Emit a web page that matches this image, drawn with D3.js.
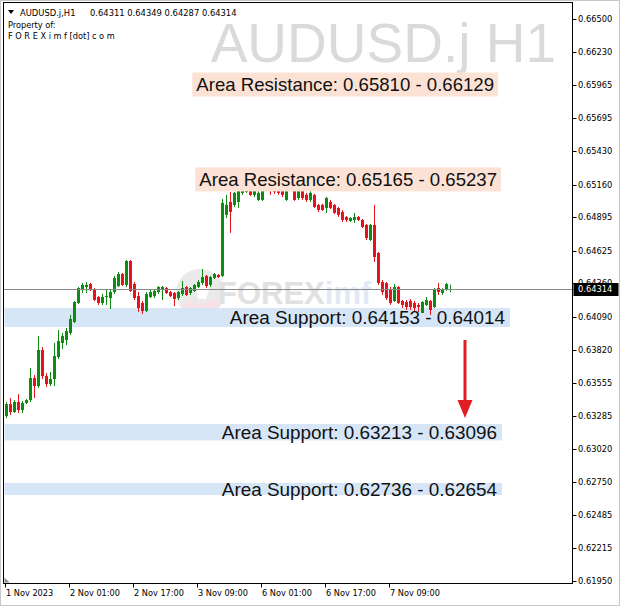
<!DOCTYPE html>
<html><head><meta charset="utf-8">
<script src="https://cdn.jsdelivr.net/npm/d3@7"></script>
<style>body{margin:0;background:#fff}svg{display:block}</style>
</head><body><svg id="c" width="620" height="606"></svg>
<script>
// ---------- data ----------
const symbolName = "AUDUSD.j,H1";
const watermarkText = "AUDUSD.j H1";
const ownerLines = ["Property of:", "F O R E X i m f [dot] c o m"];

const openP = [0.63285,0.63382,0.63318,0.63399,0.63334,0.63391,0.63415,0.63593,0.63528,0.63820,
0.63609,0.63545,0.63585,0.63763,0.63877,0.63901,0.63958,0.64047,0.64201,0.64314,
0.64330,0.64355,0.64314,0.64249,0.64201,0.64249,0.64241,0.64290,0.64338,0.64436,
0.64347,0.64541,0.64355,0.64257,0.64201,0.64136,0.64249,0.64257,0.64290,0.64314,
0.64322,0.64290,0.64282,0.64241,0.64274,0.64330,0.64282,0.64298,0.64330,0.64363,
0.64420,0.64347,0.64403,0.64428,0.64420,0.64914,0.65019,0.64995,0.65019,0.65092,
0.65100,0.65157,0.65076,0.65035,0.65035,0.65157,0.65140,0.65140,0.65132,0.65116,
0.65035,0.65157,0.65140,0.65051,0.65140,0.65076,0.65035,0.65076,0.64995,0.64995,
0.64970,0.65019,0.64995,0.64970,0.64938,0.64897,0.64865,0.64873,0.64897,0.64873,
0.64833,0.64711,0.64833,0.64606,0.64371,0.64363,0.64306,0.64217,0.64330,0.64217,
0.64209,0.64217,0.64201,0.64185,0.64120,0.64185,0.64217,0.64168,0.64322,0.64282,
0.64306,0.64311];
const highP = [0.63399,0.63431,0.63415,0.63463,0.63407,0.63423,0.63674,0.63617,0.63933,0.63844,
0.63634,0.63642,0.63877,0.63982,0.63958,0.63998,0.64104,0.64217,0.64330,0.64363,
0.64371,0.64363,0.64322,0.64257,0.64274,0.64306,0.64314,0.64420,0.64452,0.64444,
0.64549,0.64549,0.64371,0.64290,0.64217,0.64290,0.64306,0.64306,0.64338,0.64338,
0.64330,0.64298,0.64290,0.64298,0.64379,0.64338,0.64330,0.64355,0.64387,0.64476,
0.64428,0.64420,0.64444,0.64436,0.65043,0.65076,0.65100,0.65100,0.65173,0.65157,
0.65173,0.65165,0.65132,0.65132,0.65157,0.65165,0.65157,0.65148,0.65148,0.65132,
0.65148,0.65165,0.65148,0.65148,0.65148,0.65092,0.65116,0.65084,0.65003,0.65003,
0.65059,0.65035,0.65003,0.64978,0.64954,0.64905,0.64897,0.64930,0.64905,0.64881,
0.64841,0.64841,0.64995,0.64614,0.64387,0.64371,0.64330,0.64355,0.64338,0.64225,
0.64225,0.64233,0.64217,0.64201,0.64217,0.64249,0.64225,0.64322,0.64363,0.64322,
0.64363,0.64349];
const lowP = [0.63269,0.63294,0.63310,0.63310,0.63310,0.63382,0.63399,0.63431,0.63512,0.63585,
0.63520,0.63528,0.63528,0.63747,0.63828,0.63860,0.63941,0.64039,0.64193,0.64282,
0.64282,0.64298,0.64217,0.64185,0.64185,0.64185,0.64152,0.64274,0.64330,0.64338,
0.64330,0.64290,0.64225,0.64128,0.64112,0.64128,0.64241,0.64241,0.64274,0.64225,
0.64274,0.64249,0.64176,0.64225,0.64257,0.64257,0.64266,0.64290,0.64322,0.64347,
0.64322,0.64330,0.64395,0.64403,0.64411,0.64889,0.64768,0.64978,0.64970,0.65076,
0.65092,0.65067,0.65059,0.65027,0.65027,0.65116,0.65076,0.65084,0.65076,0.65059,
0.65027,0.65116,0.65027,0.65035,0.65035,0.65019,0.65019,0.64970,0.64938,0.64946,
0.64930,0.64962,0.64922,0.64897,0.64857,0.64857,0.64857,0.64849,0.64865,0.64808,
0.64711,0.64703,0.64533,0.64347,0.64266,0.64225,0.64185,0.64209,0.64193,0.64160,
0.64144,0.64144,0.64136,0.64128,0.64120,0.64176,0.64104,0.64160,0.64266,0.64266,
0.64298,0.64287];
const closeP = [0.63382,0.63318,0.63399,0.63334,0.63391,0.63415,0.63593,0.63528,0.63820,0.63609,
0.63545,0.63585,0.63771,0.63893,0.63933,0.63974,0.64071,0.64209,0.64322,0.64347,
0.64347,0.64314,0.64225,0.64201,0.64249,0.64257,0.64290,0.64403,0.64436,0.64347,
0.64541,0.64298,0.64241,0.64160,0.64136,0.64274,0.64290,0.64298,0.64330,0.64330,
0.64282,0.64257,0.64233,0.64290,0.64322,0.64266,0.64322,0.64347,0.64371,0.64411,
0.64338,0.64411,0.64436,0.64411,0.65011,0.64995,0.64938,0.65092,0.65116,0.65140,
0.65157,0.65076,0.65116,0.65092,0.65140,0.65132,0.65116,0.65100,0.65092,0.65076,
0.65132,0.65132,0.65035,0.65140,0.65051,0.65035,0.65092,0.64978,0.64954,0.64954,
0.65051,0.64970,0.64930,0.64914,0.64873,0.64873,0.64889,0.64897,0.64873,0.64816,
0.64727,0.64833,0.64573,0.64363,0.64290,0.64241,0.64201,0.64330,0.64201,0.64185,
0.64168,0.64168,0.64160,0.64168,0.64209,0.64225,0.64144,0.64314,0.64290,0.64314,
0.64355,0.64314];

const priceTicks = [0.66500,0.66230,0.65965,0.65695,0.65430,0.65160,0.64895,0.64625,0.64360,
0.64090,0.63820,0.63555,0.63285,0.63020,0.62750,0.62485,0.62215,0.61950];
const priceMin = 0.61950, priceMax = 0.66500;

const timeLabels = ["1 Nov 2023","2 Nov 01:00","2 Nov 17:00","3 Nov 09:00","6 Nov 01:00","6 Nov 17:00","7 Nov 09:00"];
const timeLabelBar = [0,16,32,48,64,80,96];

const zoneNames = ["Area Resistance","Area Resistance","Area Support","Area Support","Area Support"];
const zoneA = [0.65810,0.65165,0.64153,0.63213,0.62736];
const zoneB = [0.66129,0.65237,0.64014,0.63096,0.62654];
const zoneKind = ["res","res","sup","sup","sup"];

// ---------- drawing ----------
const svg = d3.select("#c");
const L = 3.5, R = 572.5, T = 2.5, B = 583.5;
const n = closeP.length;
const x = d3.scaleLinear().domain([0, n - 1]).range([6, 450]);
const y = d3.scaleLinear().domain([priceMin, priceMax]).range([581, 19]);
const fmt = d3.format(".5f");
const axisFont = "DejaVu Sans";
const GREEN = "#0f8a12", RED = "#e3141c";

// outer border
svg.append("rect").attr("x",0.5).attr("y",0.5).attr("width",619).attr("height",605)
  .attr("fill","none").attr("stroke","#c8c8c8");

// watermark symbol
svg.append("text").attr("x",556).attr("y",62).attr("text-anchor","end")
  .attr("font-family","Liberation Sans").attr("font-size",55).attr("fill","#dadada")
  .text(watermarkText);

// logo watermark
const logo = svg.append("g").attr("opacity",0.55);
logo.append("circle").attr("cx",200).attr("cy",293).attr("r",24).attr("fill","#d9d9d9");
logo.append("path").attr("d","M182,305 A24,24 0 0 0 222,303 L212,299 A14,14 0 0 1 190,299 Z").attr("fill","#f2c9d3");
logo.append("path").attr("d","M196,285 L214,275 L206,299 L198,299 Z").attr("fill","#ffffff");
logo.append("text").attr("x",218).attr("y",304).attr("font-family","Liberation Sans")
  .attr("font-weight","bold").attr("font-size",31).attr("fill","#c9c9c9").text("FOREX")
  .append("tspan").attr("fill","#c9d8ee").text("imf");

// layers
const zoneLayer = svg.append("g");
const candleLayer = svg.append("g");
const labelLayer = svg.append("g");

// zone labels and bands
const zoneRight = [494,497,505,497,497];
zoneKind.forEach((k,i)=>{
  const mid = (zoneA[i]+zoneB[i])/2;
  const t = labelLayer.append("text").attr("x",zoneRight[i]).attr("y",y(mid))
    .attr("dy","0.35em").attr("text-anchor","end")
    .attr("font-family","Liberation Sans").attr("font-size",k==="res"?18.6:18.9).attr("fill","#111")
    .text(`${zoneNames[i]}: ${fmt(zoneA[i])} - ${fmt(zoneB[i])}`);
  const bb = t.node().getBBox();
  if(k==="res"){
    labelLayer.insert("rect","text").attr("x",bb.x-4).attr("y",y(mid)-12)
      .attr("width",bb.width+8).attr("height",24).attr("fill","#fbe2d4");
  } else {
    const top = Math.min(y(zoneA[i]),y(zoneB[i])), bot = Math.max(y(zoneA[i]),y(zoneB[i]));
    zoneLayer.append("rect").attr("x",L+1).attr("y",top-1)
      .attr("width",bb.x+bb.width+5-(L+1)).attr("height",bot-top+2).attr("fill","#d7e6f7");
  }
});

// current price line
const last = closeP[n-1];
svg.append("line").attr("x1",L).attr("x2",R+4).attr("y1",Math.round(y(last))+0.5).attr("y2",Math.round(y(last))+0.5)
  .attr("stroke","#8a8a8a").attr("stroke-width",1);

// candles
const bars = d3.range(n);
candleLayer.selectAll("line.w").data(bars).join("line")
  .attr("x1",i=>Math.round(x(i))+0.5).attr("x2",i=>Math.round(x(i))+0.5)
  .attr("y1",i=>y(highP[i])).attr("y2",i=>y(lowP[i]))
  .attr("stroke",i=>closeP[i]>=openP[i]?GREEN:RED).attr("stroke-width",1);
candleLayer.selectAll("rect.b").data(bars).join("rect")
  .attr("x",i=>Math.round(x(i))-1).attr("width",3)
  .attr("y",i=>y(Math.max(openP[i],closeP[i])))
  .attr("height",i=>Math.max(1,Math.abs(y(openP[i])-y(closeP[i]))))
  .attr("fill",i=>closeP[i]>=openP[i]?GREEN:RED);

// red arrow
svg.append("line").attr("x1",465).attr("x2",465).attr("y1",340).attr("y2",402)
  .attr("stroke","#e11d25").attr("stroke-width",3);
svg.append("path").attr("d","M457.5,400 L472.5,400 L465,418 Z").attr("fill","#e11d25");

// frame
svg.append("rect").attr("x",L).attr("y",T).attr("width",R-L).attr("height",B-T)
  .attr("fill","none").attr("stroke","#000").attr("stroke-width",1);

// right axis
const ra = svg.append("g");
priceTicks.forEach(p=>{
  const yy = Math.round(y(p))+0.5;
  ra.append("line").attr("x1",R).attr("x2",R+4).attr("y1",yy).attr("y2",yy).attr("stroke","#000");
  ra.append("text").attr("x",578).attr("y",yy).attr("dy","0.35em")
    .attr("font-family",axisFont).attr("font-size",8.3).attr("fill","#000").text(fmt(p));
});
// current price tag
const ly = Math.round(y(last));
ra.append("rect").attr("x",R+1).attr("y",ly-6).attr("width",45).attr("height",13).attr("fill","#000");
ra.append("text").attr("x",578).attr("y",ly+0.5).attr("dy","0.35em")
  .attr("font-family",axisFont).attr("font-size",8.3).attr("fill","#fff").text(fmt(last));

// bottom axis
const ba = svg.append("g");
timeLabels.forEach((lab,k)=>{
  const xx = Math.round(x(timeLabelBar[k]))-0.5;
  ba.append("line").attr("x1",xx).attr("x2",xx).attr("y1",B).attr("y2",B+4).attr("stroke","#000");
  ba.append("text").attr("x",xx+0.5).attr("y",596)
    .attr("font-family",axisFont).attr("font-size",8.2).attr("fill","#000").text(lab);
});
// small corner marker
svg.append("path").attr("d",`M${L+1},${B-6} L${L+1},${B-1} L${L+6},${B-1} Z`).attr("fill","#8a8a8a");

// header
svg.append("path").attr("d","M8,10 L14,10 L11,14 Z").attr("fill","#000");
svg.append("text").attr("x",20).attr("y",16).attr("font-family",axisFont).attr("font-size",8.4)
  .attr("fill","#000").text(symbolName);
svg.append("text").attr("x",90).attr("y",16).attr("font-family",axisFont).attr("font-size",8.4)
  .attr("fill","#000").text([openP[n-1],highP[n-1],lowP[n-1],closeP[n-1]].map(fmt).join(" "));
ownerLines.forEach((s,i)=>{
  svg.append("text").attr("x",8).attr("y",28+i*11).attr("font-family",axisFont).attr("font-size",8.2)
    .attr("fill","#000").text(s);
});
</script></body></html>
